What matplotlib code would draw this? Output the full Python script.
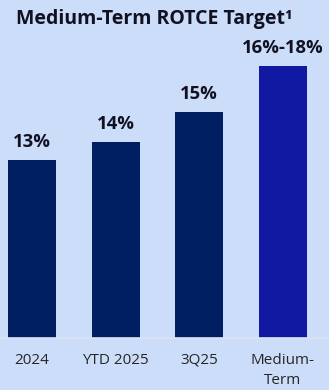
import matplotlib.pyplot as plt

# bar categories and values (heights, labels as printed)
categories = ["2024", "YTD 2025", "3Q25", "Medium-\nTerm"]
values = [13.0, 13.75, 15.0, 16.9]
value_labels = ["13%", "14%", "15%", "16%-18%"]
title = "Medium-Term ROTCE Target\u00b9"

bg = "#CCDDF9"
bar_colors = ["#001E62", "#001E62", "#001E62", "#1119A3"]

plt.rcParams["font.family"] = ["Open Sans", "DejaVu Sans"]

fig = plt.figure(figsize=(3.29, 3.90), dpi=100, facecolor=bg)
ax = fig.add_axes([0, (390 - 338.3) / 390, 1, (338.3 - 40) / 390])
ax.set_facecolor(bg)

x = list(range(len(categories)))
bars = ax.bar(x, values, width=0.574, color=bar_colors, bottom=0)
ax.set_xlim(-0.3825, 3.55)
ax.set_ylim(5.62, 17.97)

for b, lab in zip(bars, value_labels):
    ax.annotate(lab, (b.get_x() + b.get_width() / 2, b.get_height()),
                xytext=(0, 6.5), textcoords="offset points",
                ha="center", va="bottom", fontsize=13.3, fontweight="bold",
                color="#111122")

ax.set_xticks(x)
ax.set_xticklabels(categories, fontsize=11, color="#262626", linespacing=1.45)
ax.tick_params(axis="x", length=0, pad=10.5)
ax.set_yticks([])
for s in ["top", "right", "left"]:
    ax.spines[s].set_visible(False)
ax.spines["bottom"].set_color("#DCE4F2")
ax.spines["bottom"].set_linewidth(1.2)

fig.text(16 / 329, 1 - 9 / 390, title, ha="left", va="top", fontsize=14,
         fontweight="bold", color="#111122")

fig.savefig("out.png", dpi=100, facecolor=bg)
